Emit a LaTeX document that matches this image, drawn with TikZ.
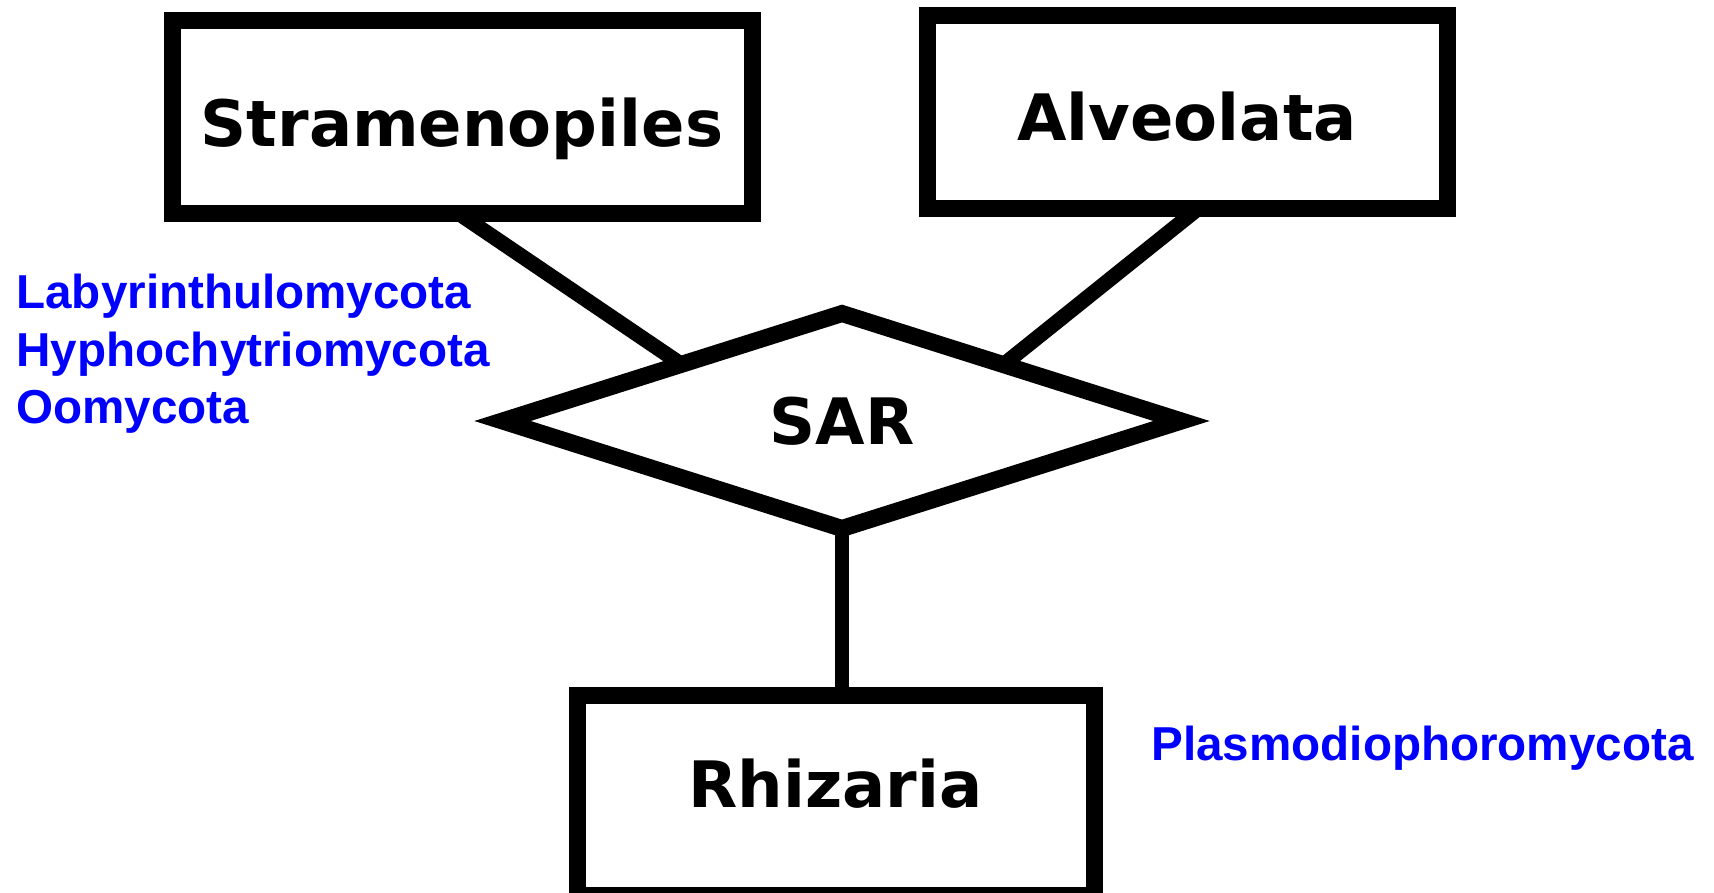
\documentclass[tikz,border=0pt]{standalone}
\usepackage{fontspec}
\newfontfamily\boxfont{DejaVu Sans}
\newfontfamily\labfont{Liberation Sans}
\usetikzlibrary{shapes.geometric,backgrounds,calc}
\definecolor{labblue}{RGB}{0,0,255}
\begin{document}
\begin{tikzpicture}[x=0.5pt,y=-0.5pt,
  taxbox/.style={draw,line width=8.5pt,fill=white,rectangle,inner sep=0pt,
    font=\boxfont\bfseries\fontsize{32}{38}\selectfont},
  sarshape/.style={draw,diamond,line width=8.5pt,fill=white,inner sep=0pt,aspect=3.2,
    text height=23.3pt,text depth=0pt,
    font=\boxfont\bfseries\fontsize{32}{38}\selectfont},
  conn/.style={line width=7.5pt},
  lab/.style={text=labblue,inner sep=0pt,anchor=base west,
    font=\labfont\bfseries\fontsize{23.8}{28}\selectfont}]
\useasboundingbox (0,0) rectangle (1714,893);

\node[taxbox,minimum width=290pt,minimum height=96.5pt,text height=28.9pt,text depth=0pt] (str) at (462,117.5) {Stramenopiles};
\node[taxbox,minimum width=260pt,minimum height=96.5pt,text height=28.4pt,text depth=0pt] (alv) at (1187,112.5) {Alveolata};
\node[taxbox,minimum width=258.5pt,minimum height=100pt,text height=23.3pt,text depth=11pt] (rhi) at (835.5,795) {Rhizaria};
\node[sarshape,minimum width=343pt,minimum height=111pt] (sar) at (842,421) {SAR};

\node[lab] (lab1) at (16,308) {Labyrinthulomycota};
\node[lab] (lab2) at (16,366) {Hyphochytriomycota};
\node[lab] (lab3) at (16,423) {Oomycota};
\node[lab] (plas) at (1151,760) {Plasmodiophoromycota};

\begin{scope}[on background layer]
  \fill[white] (0,0) rectangle (1714,893);
  \coordinate (sl) at ($(sar.west)!0.52!(sar.north)$);
  \coordinate (sr) at ($(sar.east)!0.52!(sar.north)$);
  \coordinate (sb) at ([xshift=5pt]str.south);
  \draw[conn] ($(sb)!-0.15!(sl)$) -- ($(sl)!-0.1!(sb)$);
  \draw[conn] ($(alv.south)!-0.15!(sr)$) -- ($(sr)!-0.1!(alv.south)$);
  \draw[line width=7pt] (sar.center) -- (sar.center |- rhi.center);
\end{scope}
\end{tikzpicture}
\end{document}
